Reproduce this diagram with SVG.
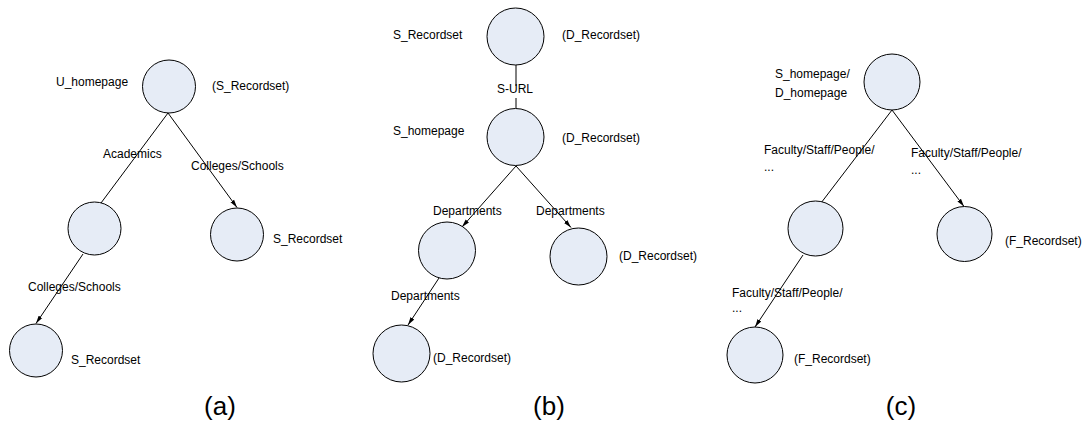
<svg xmlns="http://www.w3.org/2000/svg" width="1091" height="423" viewBox="0 0 1091 423">
  <style>
    .node { fill: #e6ecf6; stroke: #000; stroke-width: 1; }
    .edge { fill: none; stroke: #000; stroke-width: 1; }
    text { font-family: "Liberation Sans", Arial, sans-serif; font-size: 12px; fill: #000; }
    .cap { font-size: 26px; text-anchor: middle; }
  </style>
  <defs>
    <marker id="arrow" viewBox="0 0 8 6" refX="8" refY="3" markerWidth="8" markerHeight="6" markerUnits="userSpaceOnUse" orient="auto">
      <path d="M0,0.8 L8,3 L0,5.2 Z" fill="#000"/>
    </marker>
  </defs>

  <!-- connectors -->
  <g id="connectors">
    <!-- tree (a) -->
    <line class="edge" x1="168" y1="113" x2="101" y2="203"/>
    <line class="edge" x1="168" y1="113" x2="237" y2="207.5" marker-end="url(#arrow)"/>
    <line class="edge" x1="83" y1="254" x2="36" y2="323.5" marker-end="url(#arrow)"/>
    <!-- tree (b) -->
    <line class="edge" x1="516" y1="65" x2="516" y2="86"/>
    <line class="edge" x1="516" y1="98" x2="516" y2="108"/>
    <line class="edge" x1="516" y1="166" x2="462" y2="227" marker-end="url(#arrow)"/>
    <line class="edge" x1="516" y1="166" x2="571" y2="227.5" marker-end="url(#arrow)"/>
    <line class="edge" x1="439" y1="278" x2="408" y2="325" marker-end="url(#arrow)"/>
    <!-- tree (c) -->
    <line class="edge" x1="892" y1="110" x2="821" y2="203"/>
    <line class="edge" x1="892" y1="110" x2="964" y2="206.5" marker-end="url(#arrow)"/>
    <line class="edge" x1="803" y1="255" x2="755" y2="327" marker-end="url(#arrow)"/>
  </g>

  <!-- tree (a) -->
  <g id="a-root">
    <circle class="node" cx="169" cy="86.5" r="26.5"/>
    <text x="56" y="86">U_homepage</text>
    <text x="212" y="90">(S_Recordset)</text>
  </g>
  <g id="a-academics">
    <circle class="node" cx="94.5" cy="228.5" r="26.5"/>
  </g>
  <g id="a-colleges">
    <circle class="node" cx="237" cy="234.5" r="26.5"/>
    <text x="273" y="243">S_Recordset</text>
  </g>
  <g id="a-leaf">
    <circle class="node" cx="36" cy="350.5" r="26.5"/>
    <text x="71" y="364">S_Recordset</text>
  </g>
  <g id="a-labels">
    <text x="103" y="158">Academics</text>
    <text x="191" y="170">Colleges/Schools</text>
    <text x="28" y="291">Colleges/Schools</text>
    <text class="cap" x="220" y="415">(a)</text>
  </g>

  <!-- tree (b) -->
  <g id="b-root">
    <circle class="node" cx="515.5" cy="36.5" r="28.5"/>
    <text x="393" y="39">S_Recordset</text>
    <text x="562" y="39">(D_Recordset)</text>
  </g>
  <g id="b-homepage">
    <circle class="node" cx="515.5" cy="137" r="28.5"/>
    <text x="393" y="135">S_homepage</text>
    <text x="562" y="142">(D_Recordset)</text>
  </g>
  <g id="b-dept-left">
    <circle class="node" cx="447" cy="250.5" r="28.5"/>
  </g>
  <g id="b-dept-right">
    <circle class="node" cx="578.5" cy="256.5" r="28.5"/>
    <text x="619" y="260">(D_Recordset)</text>
  </g>
  <g id="b-leaf">
    <circle class="node" cx="401.5" cy="353.5" r="28.5"/>
    <text x="433" y="362">(D_Recordset)</text>
  </g>
  <g id="b-labels">
    <text x="497" y="93">S-URL</text>
    <text x="433" y="215">Departments</text>
    <text x="536" y="215">Departments</text>
    <text x="391" y="300">Departments</text>
    <text class="cap" x="549" y="415">(b)</text>
  </g>

  <!-- tree (c) -->
  <g id="c-root">
    <circle class="node" cx="892" cy="82" r="28"/>
    <text x="775" y="78">S_homepage/</text>
    <text x="775" y="97">D_homepage</text>
  </g>
  <g id="c-mid">
    <circle class="node" cx="815.5" cy="228.5" r="27.5"/>
  </g>
  <g id="c-right">
    <circle class="node" cx="964.5" cy="234" r="27.5"/>
    <text x="1005" y="245">(F_Recordset)</text>
  </g>
  <g id="c-leaf">
    <circle class="node" cx="755" cy="355" r="28"/>
    <text x="794" y="363">(F_Recordset)</text>
  </g>
  <g id="c-labels">
    <text x="764" y="154">Faculty/Staff/People/</text>
    <text x="764" y="171">...</text>
    <text x="911" y="157">Faculty/Staff/People/</text>
    <text x="911" y="174">...</text>
    <text x="732" y="297">Faculty/Staff/People/</text>
    <text x="732" y="312">...</text>
    <text class="cap" x="901" y="415">(c)</text>
  </g>
</svg>
